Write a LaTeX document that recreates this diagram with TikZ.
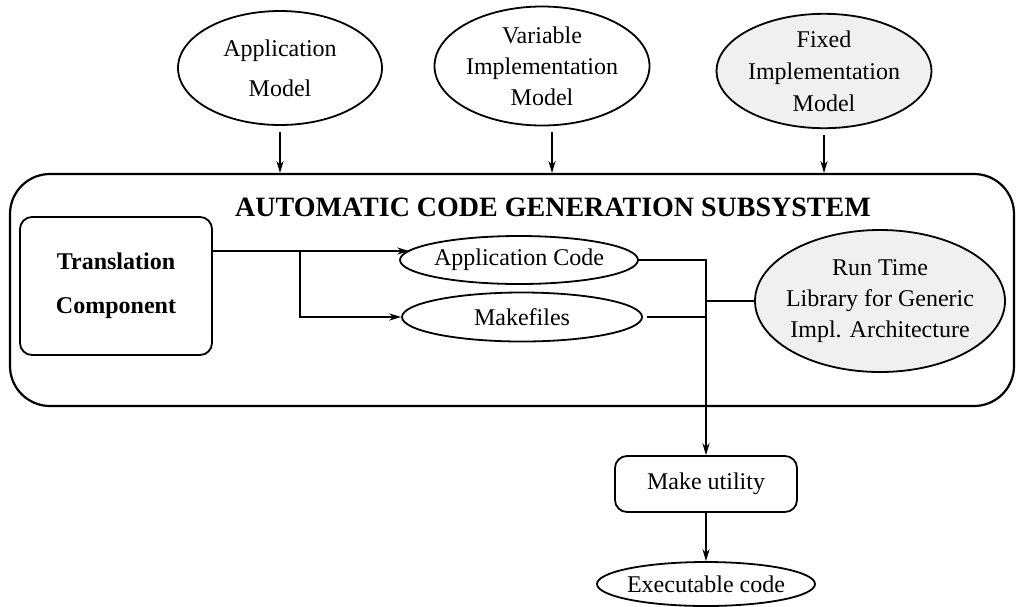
\documentclass[tikz,border=0pt]{standalone}
\usepackage{fontspec}
\setmainfont{Liberation Serif}
\usetikzlibrary{arrows.meta,shapes.geometric}
\tikzset{
  arr/.style={line width=0.7pt,-{Stealth[length=6pt,width=3.6pt]}},
  ln/.style={line width=0.7pt},
  ell/.style={draw,ellipse,line width=0.9pt,inner sep=0pt,align=center,
    font=\fontsize{12}{16}\selectfont},
  shaded/.style={fill=black!6},
  rbox/.style={draw,rounded corners=6pt,line width=0.9pt,align=center}
}
\begin{document}
\begin{tikzpicture}[x=0.5pt,y=-0.5pt]
\useasboundingbox (0,0) rectangle (1017,606);
% top models
\node[ell,minimum width=102pt,minimum height=57pt,font=\fontsize{12}{20}\selectfont] (am) at (280,68) {Application\\Model};
\node[ell,minimum width=107.5pt,minimum height=59.5pt,font=\fontsize{12}{15.5}\selectfont] (vm) at (542,66) {Variable\\Implementation\\Model};
\node[ell,shaded,minimum width=99pt,minimum height=56pt] (fm) at (824,71) {Fixed\\Implementation\\Model};
% big subsystem box
\node[draw,rounded corners=20pt,line width=1.1pt,minimum width=502pt,minimum height=116pt,inner sep=0pt] (big) at (512,290) {};
\node[font=\fontsize{14}{16}\selectfont\bfseries] (title) at (553,207) {AUTOMATIC CODE GENERATION SUBSYSTEM};
% translation component
\node[rbox,minimum width=96pt,minimum height=69pt,font=\fontsize{12}{22}\selectfont\bfseries] (tc) at (116,286) {Translation\\Component};
% generated artefacts
\node[ell,minimum width=119pt,minimum height=24pt,inner xsep=-2pt] (ac) at (519,260) {Application Code};
\node[ell,minimum width=120pt,minimum height=24.5pt] (mf) at (522,317) {Makefiles};
\node[ell,shaded,minimum width=125pt,minimum height=71pt,inner xsep=-6pt,font=\fontsize{12}{15.5}\selectfont] (rt) at (880,301) {Run Time\\Library for Generic\\Impl. Architecture};
% make utility and result
\node[rbox,minimum width=91pt,minimum height=28pt,font=\fontsize{12}{14}\selectfont] (mu) at (706,484) {Make utility};
\node[ell,minimum width=109pt,minimum height=22pt,inner xsep=-2pt] (ex) at (706,584) {Executable code};
% arrows from models
\draw[arr] ([yshift=-3pt]am.south) -- (am.south |- big.north);
\draw[arr] ([xshift=5pt,yshift=-3pt]vm.south) -- ([xshift=5pt]vm.south |- big.north);
\draw[arr] ([yshift=-3pt]fm.south) -- (fm.south |- big.north);
% translation outputs
\coordinate (br) at (300,251);
\draw[arr] (tc.east |- br) -- ([xshift=5pt]ac.west |- br);
\draw[arr] (br) |- (mf.west);
% into make utility
\draw[arr] (ac.east) -| (mu.north);
\draw[ln] ([xshift=2pt]mf.east) -- (mf.east -| mu.north);
\draw[ln] (rt.west) -- (rt.west -| mu.north);
\draw[arr] (mu.south) -- (ex.north);
\end{tikzpicture}
\end{document}
